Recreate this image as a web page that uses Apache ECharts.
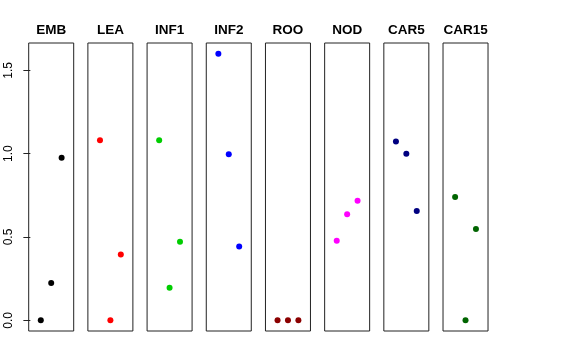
<!DOCTYPE html>
<html>
<head>
<meta charset="utf-8">
<script src="https://cdn.jsdelivr.net/npm/echarts@6/dist/echarts.min.js"></script>
<style>html,body{margin:0;padding:0;background:#fff;}#c{width:576px;height:360px;}</style>
</head>
<body>
<div id="c"></div>
<script>
const categories = ['EMB', 'LEA', 'INF1', 'INF2', 'ROO', 'NOD', 'CAR5', 'CAR15'];
const xPositions = [1, 2, 3];
const valEMB = [0, 0.224, 0.975];
const valLEA = [1.08, 0, 0.395];
const valINF1 = [1.08, 0.196, 0.471];
const valINF2 = [1.6, 0.997, 0.443];
const valROO = [0, 0, 0];
const valNOD = [0.477, 0.636, 0.718];
const valCAR5 = [1.073, 0.999, 0.656];
const valCAR15 = [0.74, 0, 0.548];
const yTicks = [0, 0.5, 1.0, 1.5];
const colors = ['#000000', '#FF0000', '#00CD00', '#0000FF', '#8B0000', '#FF00FF', '#000080', '#006400'];

const allValues = [valEMB, valLEA, valINF1, valINF2, valROO, valNOD, valCAR5, valCAR15];

const font = 'Liberation Sans, Arial, Helvetica, sans-serif';
const grids = [], xAxes = [], yAxes = [], series = [], titles = [];
const panelLeft0 = 28.7, panelStep = 59.19, panelW = 45, panelTop = 43, panelH = 288;

categories.forEach((cat, i) => {
  const left = panelLeft0 + panelStep * i;
  grids.push({left: left, top: panelTop, width: panelW, height: panelH,
    show: true, borderColor: '#222', borderWidth: 1, backgroundColor: 'transparent'});
  xAxes.push({type: 'value', gridIndex: i, min: -0.16, max: 4.16, show: false});
  const ya = {type: 'value', gridIndex: i, min: -0.064, max: 1.664, splitLine: {show: false}};
  if (i === 0) {
    Object.assign(ya, {
      show: true,
      axisLine: {show: false},
      axisTick: {show: true, customValues: yTicks, length: 7, lineStyle: {color: '#222', width: 1}},
      axisLabel: {show: true, customValues: yTicks, rotate: 90, margin: 14,
        fontSize: 12, color: '#000', fontFamily: font,
        formatter: v => Number(v).toFixed(1)}
    });
  } else {
    ya.show = false;
  }
  yAxes.push(ya);
  series.push({type: 'scatter', name: cat, xAxisIndex: i, yAxisIndex: i,
    symbol: 'circle', symbolSize: 6,
    itemStyle: {color: colors[i], opacity: 1},
    data: xPositions.map((x, k) => [x, allValues[i][k]]),
    silent: true, animation: false});
  titles.push({text: cat, left: left + panelW / 2, top: 23, textAlign: 'center', padding: 0,
    textStyle: {fontSize: 13.5, fontWeight: 'bold', color: '#000', fontFamily: font}});
});

const chart = echarts.init(document.getElementById('c'), null, {renderer: 'canvas'});
chart.setOption({
  animation: false,
  backgroundColor: '#fff',
  title: titles,
  grid: grids,
  xAxis: xAxes,
  yAxis: yAxes,
  series: series
});
</script>
</body>
</html>
